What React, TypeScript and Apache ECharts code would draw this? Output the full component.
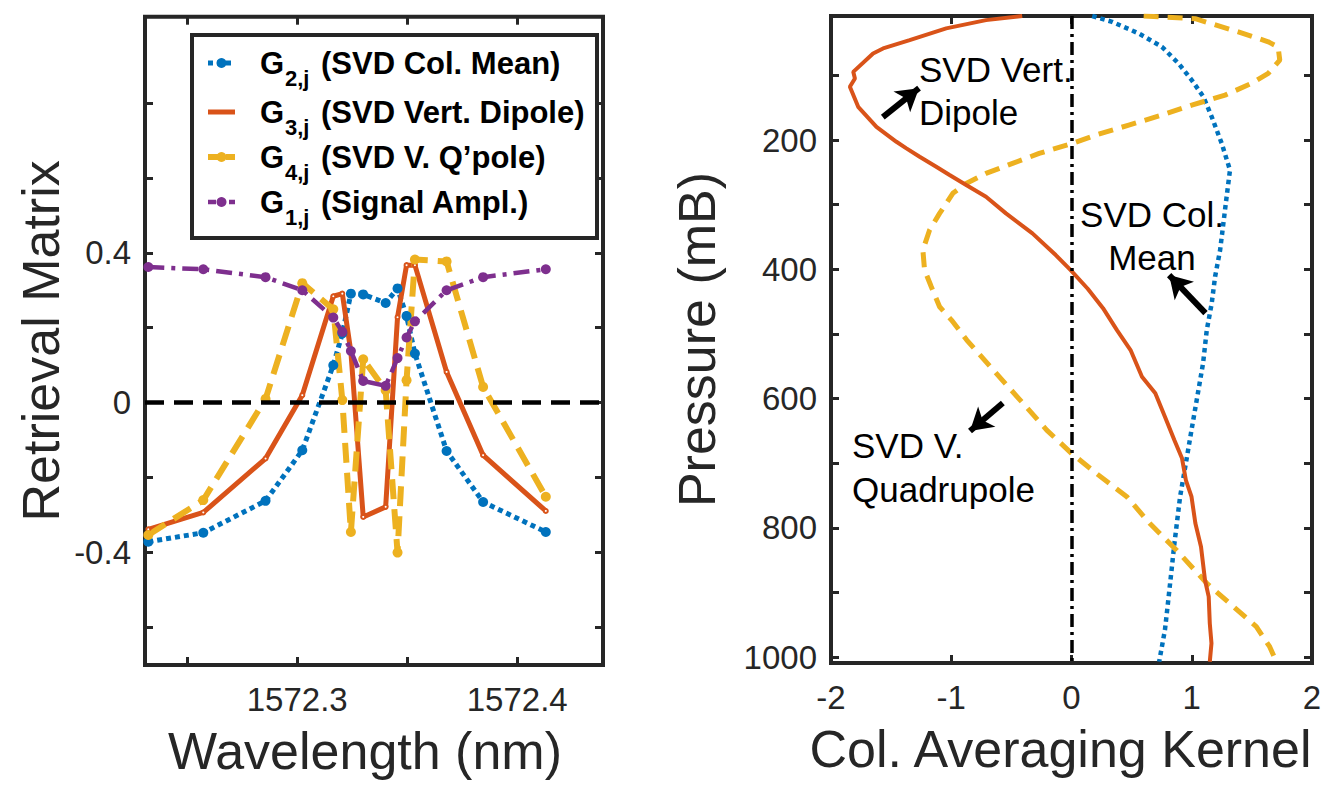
import React, { useEffect, useRef } from 'react';
import * as echarts from 'echarts';

// ---------- Left panel: retrieval matrix vs wavelength ----------
const wavelengths = [1572.2323, 1572.2573, 1572.2856, 1572.3023, 1572.3164, 1572.3205, 1572.3244, 1572.3300, 1572.3402, 1572.3456, 1572.3497, 1572.3535, 1572.3679, 1572.3845, 1572.4130];
const g2ColMean = [-0.371, -0.347, -0.262, -0.127, 0.100, 0.185, 0.291, 0.289, 0.266, 0.305, 0.231, 0.131, -0.129, -0.265, -0.345];
const g3VertDipole = [-0.338, -0.293, -0.149, 0.020, 0.284, 0.291, 0.135, -0.305, -0.278, 0.228, 0.367, 0.367, 0.082, -0.140, -0.289];
const g4Quadrupole = [-0.353, -0.260, 0.010, 0.319, 0.249, 0.007, -0.345, 0.116, 0.033, -0.400, 0.060, 0.382, 0.377, 0.042, -0.251];
const g1SignalAmpl = [0.362, 0.356, 0.335, 0.300, 0.227, 0.189, 0.138, 0.058, 0.045, 0.119, 0.174, 0.217, 0.300, 0.335, 0.356];

const leftXTicks = [1572.25, 1572.3, 1572.35, 1572.4];
const leftXLabels = [1572.3, 1572.4];
const leftYTicks = [-0.6, -0.4, -0.2, 0, 0.2, 0.4, 0.6, 0.8];
const leftYLabels = [-0.4, 0, 0.4];

// ---------- Right panel: column averaging kernel vs pressure ----------
const meanP = [8, 17, 35, 55.7, 81.4, 107.2, 133, 164, 205, 246.4, 287.7, 328.8, 370, 411.4, 452.6, 494, 545.4, 597, 648.6, 700, 751.7, 823.8, 906.4, 958, 1007];
const meanK = [0.172, 0.338, 0.559, 0.752, 0.89, 1.0, 1.097, 1.166, 1.249, 1.318, 1.29, 1.263, 1.236, 1.194, 1.166, 1.125, 1.094, 1.046, 0.998, 0.951, 0.903, 0.856, 0.808, 0.777, 0.729];

const dipoleP = [8, 14.4, 27.2, 45.3, 58.2, 65.9, 94.4, 104.6, 117.6, 148.5, 179.4, 202.6, 212.8, 225.8, 241.3, 254.1, 269.6, 287.7, 313.4, 344.3, 377.9, 401.1, 430, 460, 493.9, 524.8, 566, 591.8, 628, 664, 692.3, 725.9, 751.7, 792.9, 829, 880.6, 906.4, 947.6, 978.5, 1007];
const dipoleK = [-0.41, -0.711, -1.042, -1.346, -1.567, -1.650, -1.815, -1.801, -1.843, -1.774, -1.622, -1.456, -1.373, -1.263, -1.125, -1.014, -0.876, -0.711, -0.545, -0.325, -0.131, -0.007, 0.135, 0.262, 0.378, 0.491, 0.586, 0.697, 0.777, 0.855, 0.919, 0.951, 0.998, 1.030, 1.077, 1.11, 1.141, 1.150, 1.164, 1.15];

const quadP = [8, 12.2, 32.5, 48, 55.7, 76.3, 96.9, 112.3, 130.4, 145.9, 161.3, 176.8, 192.3, 205, 220.6, 236, 251.5, 267, 282.4, 313.4, 339.2, 370.1, 401, 426.9, 457.8, 478.4, 509.4, 555.8, 602.2, 648.6, 684.6, 715.6, 751.7, 792.9, 834.2, 885.7, 921.9, 952.8, 983.8, 1004];
const quadK = [0.60, 1.029, 1.387, 1.636, 1.718, 1.732, 1.636, 1.497, 1.277, 1.0, 0.752, 0.476, 0.2, 0.007, -0.269, -0.49, -0.711, -0.876, -0.987, -1.097, -1.18, -1.236, -1.222, -1.166, -1.097, -0.998, -0.871, -0.65, -0.427, -0.206, 0, 0.206, 0.46, 0.65, 0.872, 1.125, 1.347, 1.537, 1.648, 1.696];

const rightYTicks = [100, 200, 300, 400, 500, 600, 700, 800, 900, 1000];
const rightYLabels = [200, 400, 600, 800, 1000];

// annotation arrows [tailK, tailP, headK, headP]
const arrows = [
  [-1.569, 164.4, -1.268, 119.7],
  [1.114, 467.6, 0.812, 408.9],
  [-0.571, 606.8, -0.844, 650.0],
];

// legend entries (order as shown)
const legendSubs = ['2,j', '3,j', '4,j', '1,j'];
const legendLabels = ['(SVD Col. Mean)', '(SVD Vert. Dipole)', "(SVD V. Q\u2019pole)", '(Signal Ampl.)'];

const BLUE = '#0072BD';
const ORANGE = '#D95319';
const YELLOW = '#EDB120';
const PURPLE = '#7E2F8E';
const AX = '#262626';
const FONT = '"Liberation Sans", Arial, Helvetica, sans-serif';

const tickStyle = { color: AX, width: 3 };

function tickAxis(extra: any) {
  return {
    type: 'value',
    axisLine: { show: false, onZero: false },
    splitLine: { show: false },
    axisTick: { show: true, inside: true, length: 8, lineStyle: tickStyle },
    axisLabel: { show: false },
    ...extra,
  };
}

export default function App() {
  const ref = useRef<HTMLDivElement>(null);
  useEffect(() => {
    document.body.style.margin = '0';
    const chart = echarts.init(ref.current!, undefined, { renderer: 'svg' });
    const pair = (xs: number[], ys: number[]) => xs.map((x, i) => [x, ys[i]]);
    const labelStyle = { color: AX, fontSize: 33, fontFamily: FONT };
    const nameStyle = { color: AX, fontSize: 52, fontFamily: FONT };

    // legend drawn as graphic elements (subscripts need free placement)
    const legendStyles = [
      { color: BLUE, width: 5, dash: [5, 4], marker: 5 },
      { color: ORANGE, width: 5, dash: null, marker: 0 },
      { color: YELLOW, width: 6, dash: [12, 6], marker: 5 },
      { color: PURPLE, width: 4.5, dash: [8, 5, 3, 5], marker: 5 },
    ];
    const rowY = [63, 112, 157, 202];
    const legendEls: any[] = [
      { type: 'rect', shape: { x: 192, y: 35, width: 405, height: 203 }, style: { fill: '#fff', stroke: AX, lineWidth: 4 }, z: 50 },
    ];
    legendStyles.forEach((s, i) => {
      const y = rowY[i];
      legendEls.push({
        type: 'line', shape: { x1: 208, y1: y, x2: 235, y2: y }, z: 51,
        style: { stroke: s.color, lineWidth: s.width, lineDash: s.dash || undefined },
      });
      if (s.marker) {
        legendEls.push({ type: 'circle', shape: { cx: 221.5, cy: y, r: s.marker }, style: { fill: s.color }, z: 52 });
      }
      legendEls.push({ type: 'text', x: 260, y, z: 52, style: { text: 'G', font: `bold 31px ${FONT}`, fill: '#000', verticalAlign: 'middle' } });
      legendEls.push({ type: 'text', x: 285, y: y + 15, z: 52, style: { text: legendSubs[i], font: `bold 22px ${FONT}`, fill: '#000', verticalAlign: 'middle' } });
      legendEls.push({ type: 'text', x: 321, y, z: 52, style: { text: legendLabels[i], font: `bold 31px ${FONT}`, fill: '#000', verticalAlign: 'middle' } });
    });

    const option: any = {
      animation: false,
      backgroundColor: '#fff',
      grid: [
        { left: 145, top: 16.7, width: 458, height: 648.3, show: true, borderColor: AX, borderWidth: 4, backgroundColor: '#fff', outerBoundsMode: 'none', containLabel: false },
        { left: 831, top: 16, width: 481, height: 647, show: true, borderColor: AX, borderWidth: 4, backgroundColor: '#fff', outerBoundsMode: 'none', containLabel: false },
      ],
      xAxis: [
        tickAxis({
          gridIndex: 0, position: 'bottom', min: 1572.2308, max: 1572.439,
          axisTick: { show: true, inside: true, length: 8, customValues: leftXTicks, lineStyle: tickStyle },
          axisLabel: { show: true, customValues: leftXLabels, margin: 18, ...labelStyle, formatter: (v: number) => v.toFixed(1) },
          name: 'Wavelength (nm)', nameLocation: 'middle', nameGap: 60,
          nameTextStyle: { ...nameStyle, padding: [0, 18, 0, 0] },
        }),
        tickAxis({
          gridIndex: 0, position: 'top', min: 1572.2308, max: 1572.439,
          axisTick: { show: true, inside: true, length: 8, customValues: leftXTicks, lineStyle: tickStyle },
        }),
        tickAxis({
          gridIndex: 1, position: 'bottom', min: -2, max: 2, interval: 1,
          axisLabel: { show: true, margin: 18, ...labelStyle, formatter: (v: number) => String(v) },
          name: 'Col. Averaging Kernel', nameLocation: 'middle', nameGap: 60,
          nameTextStyle: { ...nameStyle, padding: [0, 22, 0, 0] },
        }),
        tickAxis({ gridIndex: 1, position: 'top', min: -2, max: 2, interval: 1 }),
      ],
      yAxis: [
        tickAxis({
          gridIndex: 0, position: 'left', min: -0.7, max: 1.03,
          axisTick: { show: true, inside: true, length: 8, customValues: leftYTicks, lineStyle: tickStyle },
          axisLabel: { show: true, customValues: leftYLabels, margin: 14, ...labelStyle, formatter: (v: number) => (Math.abs(v) < 1e-9 ? '0' : v.toFixed(1)) },
          name: 'Retrieval Matrix', nameLocation: 'middle', nameGap: 78, nameTextStyle: nameStyle,
        }),
        tickAxis({
          gridIndex: 0, position: 'right', min: -0.7, max: 1.03,
          axisTick: { show: true, inside: true, length: 8, customValues: leftYTicks, lineStyle: tickStyle },
        }),
        tickAxis({
          gridIndex: 1, position: 'left', min: 8, max: 1009, inverse: true,
          axisTick: { show: true, inside: true, length: 8, customValues: rightYTicks, lineStyle: tickStyle },
          axisLabel: { show: true, customValues: rightYLabels, margin: 14, ...labelStyle, formatter: (v: number) => String(v) },
          name: 'Pressure (mB)', nameLocation: 'middle', nameGap: 108, nameTextStyle: nameStyle,
        }),
        tickAxis({
          gridIndex: 1, position: 'right', min: 8, max: 1009, inverse: true,
          axisTick: { show: true, inside: true, length: 8, customValues: rightYTicks, lineStyle: tickStyle },
        }),
      ],
      series: [
        {
          name: 'G2', type: 'line', xAxisIndex: 0, yAxisIndex: 0, data: pair(wavelengths, g2ColMean),
          symbol: 'circle', symbolSize: 10, itemStyle: { color: BLUE },
          lineStyle: { color: BLUE, width: 5, type: [5, 4] },
        },
        {
          name: 'G3', type: 'line', xAxisIndex: 0, yAxisIndex: 0, data: pair(wavelengths, g3VertDipole),
          symbol: 'emptyCircle', symbolSize: 4, itemStyle: { color: ORANGE, borderWidth: 1.5 },
          lineStyle: { color: ORANGE, width: 5 },
        },
        {
          name: 'G4', type: 'line', xAxisIndex: 0, yAxisIndex: 0, data: pair(wavelengths, g4Quadrupole),
          symbol: 'circle', symbolSize: 10, itemStyle: { color: YELLOW },
          lineStyle: { color: YELLOW, width: 6, type: [20, 10] },
        },
        {
          name: 'G1', type: 'line', xAxisIndex: 0, yAxisIndex: 0, data: pair(wavelengths, g1SignalAmpl),
          symbol: 'circle', symbolSize: 10, itemStyle: { color: PURPLE },
          lineStyle: { color: PURPLE, width: 4.5, type: [16, 7, 4, 7] },
        },
        {
          name: 'zeroLeft', type: 'line', xAxisIndex: 0, yAxisIndex: 0, data: [], silent: true,
          markLine: {
            silent: true, symbol: ['none', 'none'], label: { show: false },
            lineStyle: { color: '#000', width: 4.5, type: [19, 10] },
            data: [{ yAxis: 0 }],
          },
        },
        {
          name: 'zeroRight', type: 'line', xAxisIndex: 2, yAxisIndex: 2, data: [], silent: true,
          markLine: {
            silent: true, symbol: ['none', 'none'], label: { show: false },
            lineStyle: { color: '#000', width: 3.5, type: [13, 5, 3, 5] },
            data: [{ xAxis: 0 }],
          },
        },
        {
          name: 'colMean', type: 'line', xAxisIndex: 2, yAxisIndex: 2, data: pair(meanK, meanP),
          showSymbol: false, symbol: 'none', lineStyle: { color: BLUE, width: 4.5, type: [4.5, 4] },
        },
        {
          name: 'quad', type: 'line', xAxisIndex: 2, yAxisIndex: 2, data: pair(quadK, quadP),
          showSymbol: false, symbol: 'none', lineStyle: { color: YELLOW, width: 5, type: [15, 9] },
        },
        {
          name: 'dipole', type: 'line', xAxisIndex: 2, yAxisIndex: 2, data: pair(dipoleK, dipoleP),
          showSymbol: false, symbol: 'none', lineStyle: { color: ORANGE, width: 4 },
        },
        {
          name: 'arrows', type: 'line', xAxisIndex: 2, yAxisIndex: 2, data: [], silent: true,
          markLine: {
            silent: true, symbol: ['none', 'arrow'], symbolSize: [20, 22], label: { show: false },
            lineStyle: { color: '#000', width: 6, type: 'solid' },
            itemStyle: { color: '#000' },
            data: arrows.map((a) => [{ coord: [a[0], a[1]] }, { coord: [a[2], a[3]] }]),
          },
        },
      ],
      graphic: [
        ...legendEls,
        { type: 'text', x: 919, y: 48, style: { text: 'SVD Vert.\nDipole', font: `35px ${FONT}`, fill: '#000', lineHeight: 43, align: 'left', verticalAlign: 'top' } },
        { type: 'text', x: 1152, y: 193, style: { text: 'SVD Col.\nMean', font: `35px ${FONT}`, fill: '#000', lineHeight: 43, align: 'center', verticalAlign: 'top' } },
        { type: 'text', x: 852, y: 423, style: { text: 'SVD V.\nQuadrupole', font: `35px ${FONT}`, fill: '#000', lineHeight: 44, align: 'left', verticalAlign: 'top' } },
      ],
    };
    chart.setOption(option);
    return () => chart.dispose();
  }, []);
  return <div ref={ref} style={{ width: 1330, height: 786 }} />;
}
